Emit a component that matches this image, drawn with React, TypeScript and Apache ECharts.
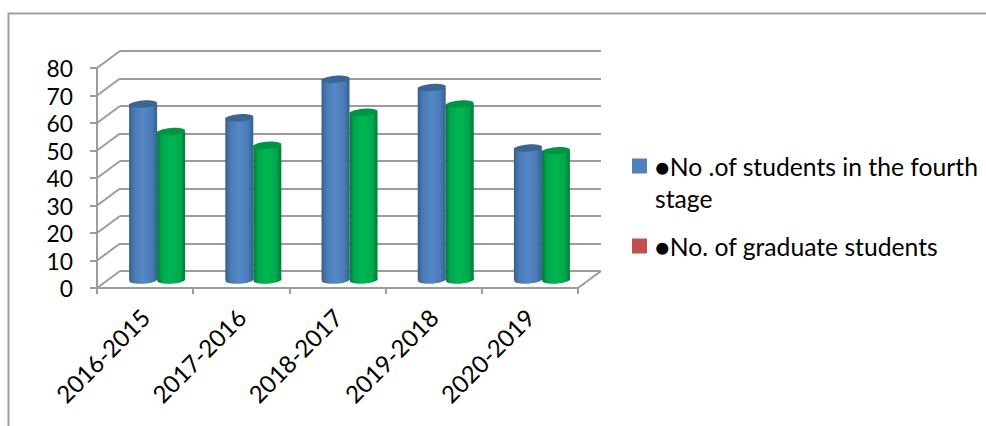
import React, { useEffect, useRef } from "react";
import * as echarts from "echarts";

const categories = ["2016-2015", "2017-2016", "2018-2017", "2019-2018", "2020-2019"];
const fourthStage = [64, 59, 73, 70, 48];
const graduates = [54, 49, 61, 64, 47];
const yTicks = [0, 10, 20, 30, 40, 50, 60, 70, 80];
const nameFourth = "●No .of students in the fourth stage";
const nameGraduate = "●No. of graduate students";

const FONT = "Lato";
const LINE = "#9c9c9c";
const LW = 2;
const DX = 23;
const DY = -17;

function grad(edge: string, mid: string, light: string) {
  return new echarts.graphic.LinearGradient(0, 0, 1, 0, [
    { offset: 0, color: edge },
    { offset: 0.18, color: mid },
    { offset: 0.5, color: light },
    { offset: 0.82, color: mid },
    { offset: 1, color: edge },
  ]);
}

function cylinder(side: number, edge: string, mid: string, light: string, cap: string) {
  return (params: any, api: any) => {
    const cat = api.value(0);
    const top = api.coord([cat, api.value(1)]);
    const base = api.coord([cat, 0]);
    const w = 28;
    const cx = top[0] + 12 + (side * w) / 2;
    const yT = top[1] - 8;
    const yB = base[1] - 8;
    const fill = grad(edge, mid, light);
    const tilt = 0.07;
    return {
      type: "group",
      children: [
        {
          type: "ellipse",
          shape: { cx, cy: yB, rx: w / 2, ry: 3.6 },
          rotation: tilt,
          originX: cx,
          originY: yB,
          style: { fill },
        },
        {
          type: "rect",
          shape: { x: cx - w / 2, y: yT, width: w, height: yB - yT },
          style: { fill },
        },
        {
          type: "ellipse",
          shape: { cx, cy: yT, rx: w / 2, ry: 3.6 },
          rotation: tilt,
          originX: cx,
          originY: yT,
          style: { fill: cap },
        },
      ],
    };
  };
}

function wallLines(params: any, api: any) {
  const half = api.size([1, 0])[0] / 2;
  const p = api.coord([api.value(0), api.value(1)]);
  const x = p[0] + api.value(2) * half;
  return {
    type: "line",
    shape: { x1: x, y1: p[1], x2: x + DX, y2: p[1] + DY },
    style: { stroke: LINE, lineWidth: LW },
  };
}

export default function App() {
  const ref = useRef<HTMLDivElement>(null);
  useEffect(() => {
    const chart = echarts.init(ref.current!, null, { renderer: "svg" });
    const diagonalData = [
      ...yTicks.map((v) => [0, v, -1]),
      [categories.length - 1, 0, 1],
    ];
    chart.setOption({
      animation: false,
      backgroundColor: "#ffffff",
      textStyle: { fontFamily: FONT },
      grid: [
        { left: 97, top: 68, width: 481, height: 220 },
        { left: 120, top: 51, width: 481, height: 220 },
      ],
      xAxis: [
        {
          type: "category",
          data: categories,
          gridIndex: 0,
          axisLine: { lineStyle: { color: LINE, width: LW } },
          axisTick: { show: true, length: 6, lineStyle: { color: LINE, width: LW } },
          axisLabel: { rotate: 45, margin: 25, fontSize: 24, color: "#000", fontFamily: FONT, interval: 0 },
          splitLine: { show: false },
        },
        { type: "category", data: categories, gridIndex: 1, show: false },
      ],
      yAxis: [
        {
          type: "value",
          gridIndex: 0,
          min: 0,
          max: 80,
          interval: 10,
          axisLine: { show: true, lineStyle: { color: LINE, width: LW } },
          axisTick: { show: true, length: 7, lineStyle: { color: LINE, width: LW } },
          axisLabel: { margin: 24, fontSize: 22.8, color: "#000", fontFamily: FONT },
          splitLine: { show: false },
        },
        {
          type: "value",
          gridIndex: 1,
          min: 0,
          max: 80,
          interval: 10,
          axisLine: { show: false },
          axisTick: { show: false },
          axisLabel: { show: false },
          splitLine: { show: true, lineStyle: { color: LINE, width: LW } },
        },
      ],
      legend: {
        orient: "vertical",
        left: 632,
        top: 118,
        padding: 0,
        itemWidth: 15,
        itemHeight: 15,
        itemGap: 16,
        selectedMode: false,
        data: [
          { name: nameFourth, icon: "rect", itemStyle: { color: "#4f81bd" } },
          { name: nameGraduate, icon: "rect", itemStyle: { color: "#c0504d" } },
        ],
        formatter: (n: string) =>
          n === nameFourth ? "\n●No .of students in the fourth\nstage" : n,
        textStyle: { fontFamily: FONT, fontSize: 24.7, lineHeight: 32, color: "#000", padding: [0, 0, 0, 3] },
      },
      graphic: [
        {
          type: "polyline",
          shape: { points: [[8.5, 426], [8.5, 13.5], [986, 13.5]] },
          style: { fill: "none", stroke: "#a0a0a0", lineWidth: LW },
          silent: true,
        },
      ],
      series: [
        {
          type: "custom",
          name: "walls",
          xAxisIndex: 0,
          yAxisIndex: 0,
          z: 1,
          silent: true,
          data: diagonalData,
          encode: { x: 0, y: 1 },
          renderItem: wallLines,
        },
        {
          type: "custom",
          name: nameFourth,
          xAxisIndex: 0,
          yAxisIndex: 0,
          z: 3,
          data: fourthStage.map((v, i) => [i, v]),
          encode: { x: 0, y: 1 },
          renderItem: cylinder(-1, "#35608f", "#4a7ab5", "#5488c8", "#3a6595"),
        },
        {
          type: "custom",
          name: nameGraduate,
          xAxisIndex: 0,
          yAxisIndex: 0,
          z: 4,
          data: graduates.map((v, i) => [i, v]),
          encode: { x: 0, y: 1 },
          renderItem: cylinder(1, "#007a38", "#00a84c", "#00b652", "#009444"),
        },
      ],
    });
    return () => chart.dispose();
  }, []);
  return (
    <div
      ref={ref}
      style={{ position: "fixed", left: 0, top: 0, width: 986, height: 426 }}
    />
  );
}
